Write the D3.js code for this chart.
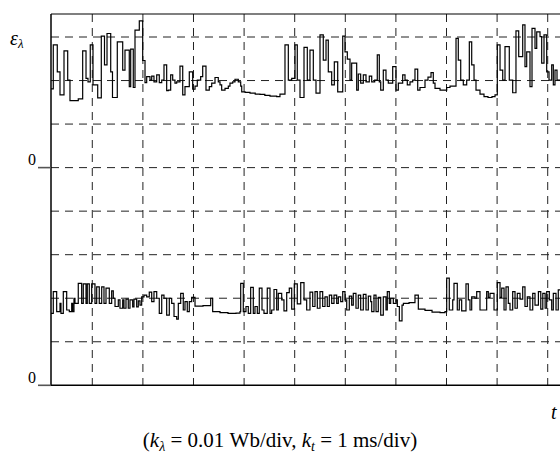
<!DOCTYPE html>
<html><head><meta charset="utf-8">
<script src="https://cdn.jsdelivr.net/npm/d3@7"></script>
<style>html,body{margin:0;padding:0;background:#fff;}svg{display:block;}</style>
</head><body>
<script>
// time grid (ms, 1 ms/div) and level grid (div)
const timeTicks = [1,2,3,4,5,6,7,8,9,10];
const levelTicks = [1,2,3,4,5,6,7,8];
const zeroLevels = [5, 0];       // zero reference of upper and lower trace (div)
const zeroLabels = ["0", "0"];
const yLabel = ["ε", "λ"];
const xLabel = "t";
const caption = ["(", "k", "λ", " = 0.01 Wb/div, ", "k", "t", " = 1 ms/div)"];

// upper trace (relative to its zero, in divisions)
const upperT = [
0.184,0.229,0.308,0.362,0.441,0.514,0.559,0.723,0.810,0.876,
0.915,0.960,1.014,1.107,1.178,1.241,1.291,1.364,1.399,1.494,
1.601,1.646,1.731,1.759,1.810,1.844,1.929,1.996,2.042,2.075,
2.140,2.174,2.219,2.273,2.324,2.372,2.417,2.470,2.502,2.549,
2.589,2.634,2.668,2.733,2.787,2.832,2.917,2.984,3.030,3.075,
3.142,3.182,3.247,3.312,3.360,3.425,3.490,3.524,3.557,3.623,
3.688,3.721,3.775,3.820,3.885,3.933,3.953,4.020,4.117,4.220,
4.314,4.410,4.512,4.644,4.709,4.808,4.874,4.941,5.006,5.051,
5.105,5.184,5.249,5.302,5.368,5.421,5.500,5.565,5.619,5.664,
5.731,5.783,5.850,5.949,5.994,6.040,6.093,6.126,6.225,6.257,
6.304,6.356,6.409,6.474,6.522,6.581,6.632,6.672,6.700,6.751,
6.804,6.850,6.937,7.002,7.048,7.134,7.180,7.225,7.279,7.332,
7.377,7.431,7.476,7.575,7.634,7.694,7.739,7.773,7.872,8.004,
8.069,8.188,8.233,8.281,8.332,8.399,8.451,8.498,8.544,8.583,
8.662,8.741,8.820,8.899,8.959,9.004,9.058,9.111,9.156,9.241,
9.308,9.373,9.427,9.506,9.551,9.585,9.650,9.690,9.749,9.783,
9.848,9.881,9.927,9.980,10.026,10.079,10.111,10.144,10.184];
const upperV = [
1.81,2.82,2.20,1.67,2.68,2.01,1.54,1.58,2.68,2.05,
1.97,2.82,1.90,1.60,3.02,2.36,3.08,2.20,1.61,2.89,
2.24,2.70,1.86,2.72,1.84,3.16,3.37,2.46,1.95,2.09,
2.01,2.10,1.97,2.13,1.95,2.01,2.36,1.77,1.78,2.13,
2.01,1.94,1.97,2.33,1.67,1.86,2.20,1.80,1.87,2.01,
2.09,2.33,1.78,1.86,1.94,2.07,1.97,1.90,1.78,1.82,
1.87,1.94,1.97,2.03,1.97,1.87,1.74,1.73,1.71,1.69,
1.68,1.66,1.64,1.63,1.69,2.82,2.01,2.05,2.82,2.01,
1.61,2.76,2.01,2.70,2.01,1.71,3.05,2.47,2.93,2.20,
1.90,2.43,1.74,3.02,2.66,2.49,2.01,2.40,1.78,2.15,
1.94,2.13,1.97,2.10,1.97,2.01,2.59,1.97,1.78,2.24,
2.01,1.94,2.32,1.78,1.94,2.13,2.01,1.90,1.97,2.01,
2.26,1.78,1.84,2.01,2.08,2.18,1.94,1.82,1.78,1.84,
1.87,2.97,2.47,2.01,1.90,2.01,2.89,2.36,2.01,1.78,
1.69,1.63,1.61,1.63,1.67,2.82,2.24,2.01,2.78,2.01,
1.72,3.14,2.55,3.28,2.32,2.66,1.86,3.20,2.74,3.12,
3.01,2.40,3.05,2.20,2.01,2.36,1.90,2.24,2.01];

// lower trace (relative to its zero, in divisions)
const lowerT = [
0.184,0.229,0.296,0.362,0.381,0.427,0.494,0.546,0.593,0.613,
0.638,0.658,0.723,0.790,0.822,0.876,0.901,0.941,0.988,1.053,
1.087,1.138,1.186,1.231,1.271,1.336,1.383,1.415,1.449,1.514,
1.547,1.601,1.626,1.666,1.711,1.745,1.798,1.824,1.877,1.909,
1.943,1.976,2.022,2.075,2.126,2.174,2.219,2.273,2.324,2.372,
2.417,2.470,2.522,2.569,2.615,2.668,2.700,2.747,2.798,2.832,
2.877,2.917,2.964,3.030,3.188,3.340,3.379,3.524,3.682,3.840,
3.919,3.933,3.984,4.037,4.083,4.130,4.182,4.215,4.261,4.300,
4.354,4.393,4.458,4.512,4.545,4.591,4.644,4.676,4.743,4.788,
4.842,4.893,4.941,4.992,5.051,5.119,5.184,5.237,5.302,5.356,
5.401,5.447,5.500,5.553,5.599,5.644,5.684,5.731,5.777,5.830,
5.862,5.909,5.949,5.994,6.028,6.079,6.126,6.158,6.211,6.257,
6.304,6.356,6.409,6.455,6.502,6.522,6.567,6.607,6.652,6.700,
6.751,6.804,6.830,6.870,6.897,6.949,7.002,7.028,7.068,7.121,
7.148,7.260,7.377,7.443,7.575,7.714,7.872,7.970,8.004,8.055,
8.123,8.148,8.213,8.253,8.300,8.385,8.431,8.464,8.498,8.563,
8.597,8.662,8.794,8.826,8.860,8.939,9.004,9.058,9.091,9.137,
9.176,9.221,9.255,9.308,9.354,9.399,9.453,9.506,9.551,9.597,
9.650,9.704,9.749,9.816,9.863,9.903,9.949,9.980,10.032,10.079,
10.111,10.164,10.209];
const lowerV = [
1.65,2.15,1.69,1.88,1.65,2.15,1.73,1.69,1.88,1.69,
2.00,1.88,2.34,1.88,2.33,1.88,2.33,1.88,2.33,1.88,
2.26,1.88,2.26,1.88,2.23,1.88,2.17,2.00,1.81,1.96,
1.77,1.96,1.77,1.98,1.77,1.96,1.80,1.98,1.80,1.94,
1.84,2.03,2.07,2.03,2.14,1.92,2.15,2.00,1.65,2.07,
2.00,1.61,2.00,1.88,1.58,1.52,1.88,2.11,1.73,1.92,
1.69,1.92,2.02,1.82,1.83,2.00,1.69,1.67,1.65,1.66,
1.69,2.34,1.69,1.81,1.65,2.25,1.65,1.81,1.65,2.23,
1.73,1.65,2.23,1.65,1.73,2.20,1.73,2.11,1.96,1.71,
2.13,2.23,1.75,2.33,1.87,2.36,1.96,1.73,2.14,1.81,
2.15,1.77,2.15,1.81,2.03,1.81,2.07,1.88,2.07,1.88,
2.03,1.92,2.15,1.96,1.73,2.05,1.84,2.11,1.77,2.07,
1.73,2.09,1.73,2.05,1.92,1.69,2.07,1.69,2.02,1.61,
2.03,1.73,2.15,1.88,2.00,1.88,1.96,1.81,1.48,1.84,
1.88,1.90,2.07,1.75,1.72,1.68,1.67,1.69,2.46,1.73,
1.96,2.34,1.73,1.96,1.71,2.33,1.96,1.73,2.03,2.00,
2.15,1.73,2.15,2.02,2.11,1.73,2.36,2.02,2.23,1.73,
2.26,1.88,1.73,2.15,1.77,2.11,1.98,2.26,1.81,2.03,
1.73,2.11,1.84,2.15,1.75,2.11,1.77,2.15,1.96,1.73,
2.11,1.73,2.19];

const W = 560, H = 454;
const tStart = 0.184, tEnd = 10.243;
const svg = d3.select("body").append("svg").attr("width", W).attr("height", H);

const x = d3.scaleLinear().domain([tStart, tEnd]).range([51, 560]);
const y = d3.scaleLinear().domain([0, 8]).range([385.3, 37]);
const yTop = 14;

// grid
const grid = svg.append("g").attr("stroke", "#222").attr("stroke-width", 1).attr("stroke-dasharray", "8,6").attr("fill", "none");
grid.selectAll("line.h").data(levelTicks).join("line")
  .attr("x1", x(tStart)).attr("x2", x(tEnd))
  .attr("y1", d => y(d)).attr("y2", d => y(d));
grid.selectAll("line.v").data(timeTicks).join("line")
  .attr("x1", d => x(d)).attr("x2", d => x(d))
  .attr("y1", yTop).attr("y2", y(0));

// frame
const frame = svg.append("g").attr("stroke", "#000").attr("fill", "none");
frame.append("line").attr("x1", x(tStart)).attr("x2", W).attr("y1", yTop).attr("y2", yTop).attr("stroke-width", 1.2);
frame.append("line").attr("x1", x(tStart)).attr("x2", x(tStart)).attr("y1", yTop).attr("y2", y(0)).attr("stroke-width", 1.5);
frame.append("line").attr("x1", x(tStart)).attr("x2", W).attr("y1", y(0)).attr("y2", y(0)).attr("stroke-width", 1.6);

// zero markers
svg.append("g").attr("stroke", "#555").attr("stroke-width", 1.6)
  .selectAll("line").data(zeroLevels).join("line")
  .attr("x1", 38).attr("x2", x(tStart)).attr("y1", d => y(d)).attr("y2", d => y(d));
svg.append("g").attr("font-family", "'Liberation Serif','Times New Roman',serif").attr("font-size", 16)
  .selectAll("text").data(zeroLevels).join("text")
  .attr("x", 36).attr("y", d => y(d) - 2.5).attr("text-anchor", "end")
  .text((d, i) => zeroLabels[i]);

// traces
svg.append("clipPath").attr("id", "clip").append("rect")
  .attr("x", x(tStart)).attr("y", yTop).attr("width", W - x(tStart)).attr("height", y(0) - yTop);
function traceData(ts, vs, off) {
  const n = Math.min(ts.length, vs.length);
  const pts = [];
  for (let i = 0; i < n; i++) pts.push([ts[i], vs[i] + off]);
  pts.push([tEnd, vs[n - 1] + off]);
  return pts;
}
const line = d3.line().x(d => x(d[0])).y(d => y(d[1])).curve(d3.curveStepAfter);
const tg = svg.append("g").attr("clip-path", "url(#clip)").attr("fill", "none").attr("stroke", "#000").attr("stroke-width", 1.2);
tg.append("path").attr("d", line(traceData(upperT, upperV, zeroLevels[0])));
tg.append("path").attr("d", line(traceData(lowerT, lowerV, zeroLevels[1])));

// labels
const ff = "'Liberation Serif','Times New Roman',serif";
const yl = svg.append("text").attr("x", 10).attr("y", 45).attr("font-family", ff).attr("font-size", 20).attr("font-style", "italic");
yl.append("tspan").text(yLabel[0]);
yl.append("tspan").attr("font-size", 13).attr("dy", 3).text(yLabel[1]);

svg.append("text").attr("x", 551).attr("y", 419).attr("font-family", ff).attr("font-size", 20).attr("font-style", "italic").text(xLabel);

const cap = svg.append("text").attr("x", 280).attr("y", 447).attr("text-anchor", "middle").attr("font-family", ff).attr("font-size", 21);
cap.append("tspan").text(caption[0]);
cap.append("tspan").attr("font-style", "italic").text(caption[1]);
cap.append("tspan").attr("font-style", "italic").attr("font-size", 14).attr("dy", 4).text(caption[2]);
cap.append("tspan").attr("dy", -4).text(caption[3]);
cap.append("tspan").attr("font-style", "italic").text(caption[4]);
cap.append("tspan").attr("font-style", "italic").attr("font-size", 14).attr("dy", 4).text(caption[5]);
cap.append("tspan").attr("dy", -4).text(caption[6]);
</script>
</body></html>
